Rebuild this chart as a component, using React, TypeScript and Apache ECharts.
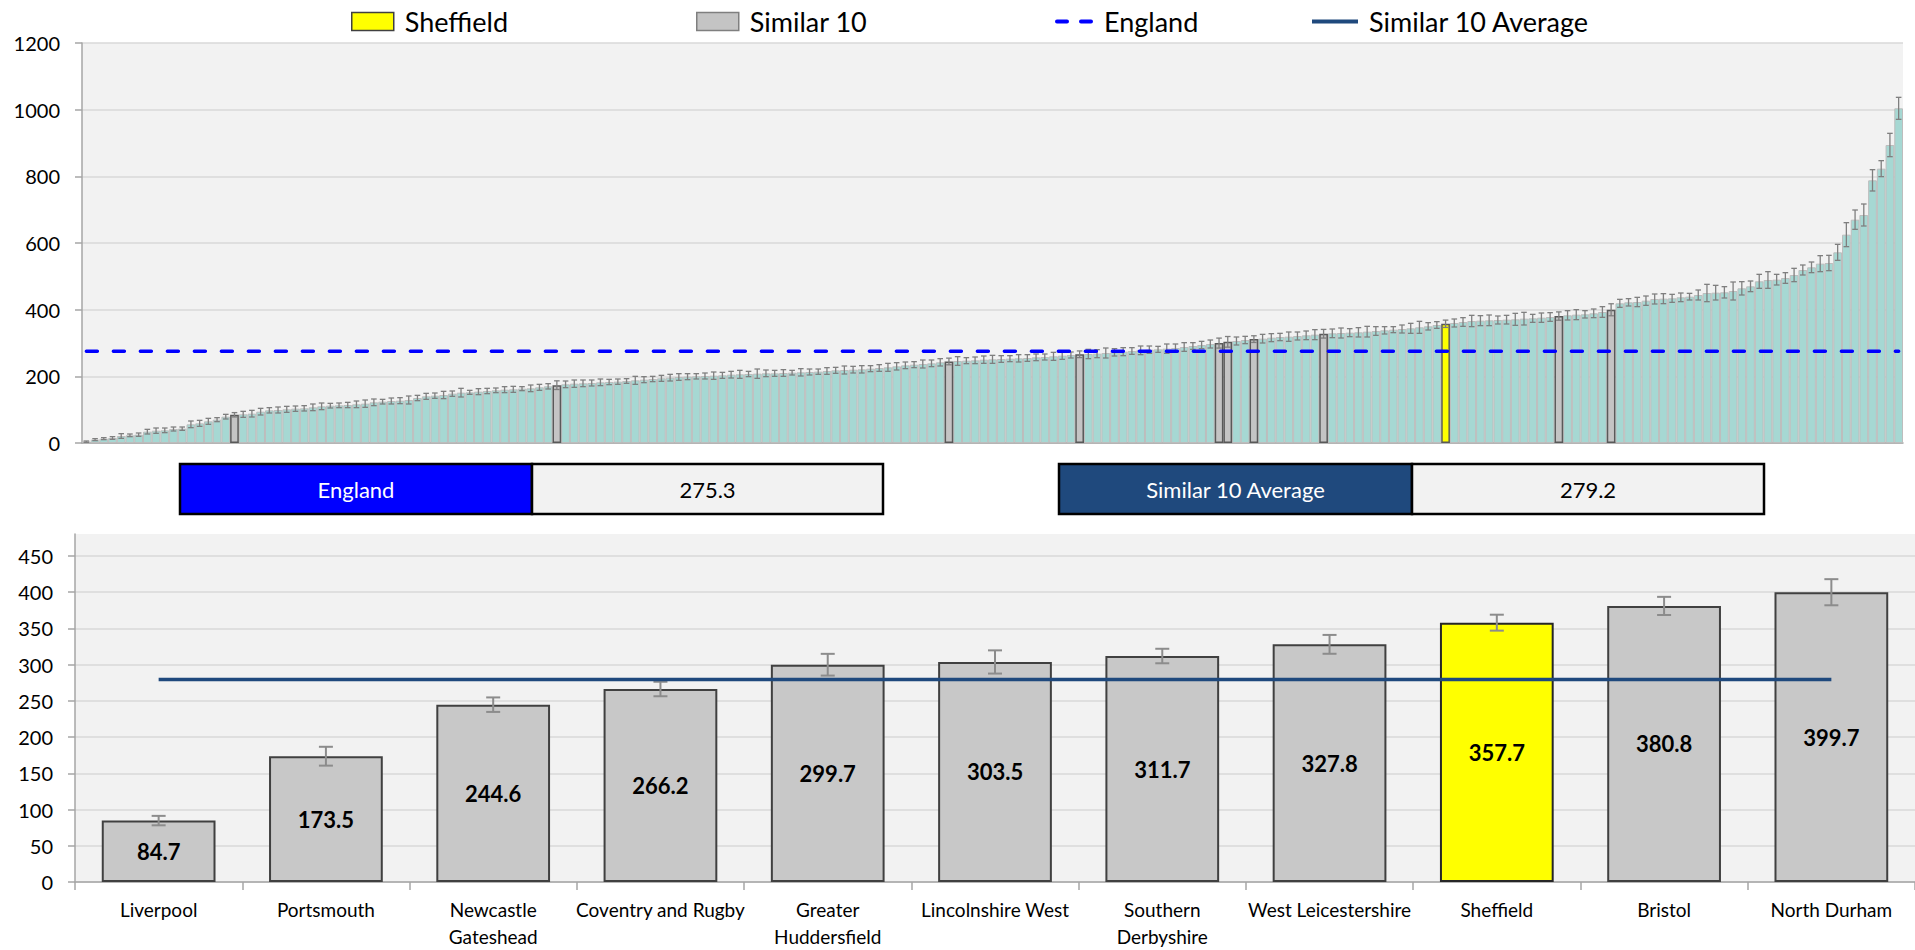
import React, { useEffect, useRef } from "react";
import * as echarts from "echarts";

// ---------- DATA ----------
// All CCG rates, sorted ascending (top chart)
const rates = [
  4, 10, 13, 15, 21, 23, 25, 34, 37, 38, 42, 43, 56, 59, 65, 70, 79, 84.7, 86, 88,
  94, 98, 99, 101, 103, 104, 107, 110, 112, 113, 114, 116, 118, 122, 124, 126, 127, 129, 135, 140,
  142, 144, 148, 151, 152, 154, 156, 158, 160, 161, 163, 164, 167, 170, 173.5, 176, 178, 179, 180, 182,
  183, 184, 186, 188, 190, 192, 194, 196, 198, 199, 200, 201, 202, 203, 205, 206, 207, 208, 209, 209,
  210, 211, 212, 213, 214, 216, 218, 219, 220, 221, 223, 225, 227, 230, 233, 235, 237, 239, 242, 244.6,
  246, 247, 248, 250, 251, 252, 253, 254, 255, 257, 258, 260, 262, 264, 266.2, 267, 268, 270, 272, 274,
  276, 278, 280, 281, 283, 285, 288, 291, 294, 297, 299.7, 303.5, 306, 309, 311.7, 313, 316, 318, 319, 321,
  323, 325, 327.8, 329, 330, 331, 332, 334, 336, 338, 340, 342, 344, 347, 350, 354, 357.7, 360, 363, 366,
  367, 368, 369, 370, 371, 373, 374, 376, 378, 380.8, 383, 385, 386, 389, 393, 399.7, 419, 422, 423, 427,
  432, 433, 434, 437, 439, 444, 450, 451, 452, 456, 464, 470, 485, 489, 490, 495, 504, 519, 527, 538,
  540, 572, 625, 670, 684, 788, 823, 894, 1004,
];

// half-width of each CCG's confidence interval
const ciHalf = [
  2, 3, 3, 4, 7, 4, 5, 7, 8, 7, 6, 5, 10, 9, 9, 6, 7, 6.5, 9, 10,
  10, 8, 9, 9, 8, 8, 10, 10, 7, 7, 8, 10, 11, 10, 7, 9, 9, 12, 8, 9,
  8, 11, 8, 13, 6, 9, 8, 7, 9, 9, 6, 10, 9, 8, 13, 10, 11, 10, 9, 10,
  8, 8, 7, 12, 9, 8, 9, 10, 10, 9, 8, 9, 11, 9, 10, 12, 8, 14, 10, 9,
  10, 7, 11, 9, 8, 10, 9, 12, 10, 11, 9, 10, 12, 11, 10, 9, 12, 10, 11, 9,
  13, 9, 10, 11, 12, 10, 9, 11, 10, 10, 9, 12, 11, 9, 10, 14, 12, 15, 11, 12,
  10, 13, 11, 9, 14, 12, 13, 10, 11, 12, 15, 16, 12, 11, 10, 13, 12, 11, 14, 12,
  13, 15, 12, 13, 15, 12, 14, 16, 13, 11, 9, 12, 15, 18, 11, 10, 11, 12, 13, 17,
  15, 16, 12, 13, 18, 19, 12, 14, 13, 12.5, 14, 15, 11, 13, 16, 18, 12, 11, 14, 14,
  15, 15, 12, 13, 10, 15, 26, 22, 17, 27, 20, 16, 21, 25, 16, 16, 20, 15, 16, 24,
  23, 24, 36, 29, 33, 32, 24, 35, 33,
];

// Similar 10 group (bottom chart)
const similarNames = [
  "Liverpool", "Portsmouth", "Newcastle Gateshead", "Coventry and Rugby", "Greater Huddersfield",
  "Lincolnshire West", "Southern Derbyshire", "West Leicestershire", "Sheffield", "Bristol", "North Durham",
];
const similarValues = [84.7, 173.5, 244.6, 266.2, 299.7, 303.5, 311.7, 327.8, 357.7, 380.8, 399.7];
const similarCi = [6.5, 13, 10, 10, 15, 16, 10, 13, 11, 12.5, 18];
// position of each in the ranked list of all CCGs
const similarRanks = [17, 54, 99, 114, 130, 131, 134, 142, 156, 169, 175];
const twoLineNames = ["Newcastle Gateshead", "Greater Huddersfield", "Southern Derbyshire"];

const highlightName = "Sheffield";
const englandValue = 275.3;
const similarAverage = 279.2;

const topAxis = { min: 0, max: 1200, interval: 200 };
const bottomAxis = { min: 0, max: 480, interval: 50 };
const bottomTicks = [0, 50, 100, 150, 200, 250, 300, 350, 400, 450];

// ---------- STYLE ----------
const FONT = "Lato, 'Open Sans', sans-serif";
const TEAL = "#a6d8d3";
const GREY = "#c4c4c4";
const YELLOW = "#ffff00";
const BLUE = "#0000ff";
const NAVY = "#1f497d";
const PLOT_BG = "#f2f2f2";
const GRIDLINE = "#d9d9d9";
const AXIS = "#a6a6a6";

function errorRenderer(capHalf: number, color: string, width: number) {
  return (params: any, api: any) => {
    const x = api.value(0);
    const lo = api.coord([x, api.value(1)]);
    const hi = api.coord([x, api.value(2)]);
    const style = { stroke: color, lineWidth: width };
    return {
      type: "group",
      children: [
        { type: "line", shape: { x1: lo[0], y1: lo[1], x2: hi[0], y2: hi[1] }, style },
        { type: "line", shape: { x1: lo[0] - capHalf, y1: lo[1], x2: lo[0] + capHalf, y2: lo[1] }, style },
        { type: "line", shape: { x1: hi[0] - capHalf, y1: hi[1], x2: hi[0] + capHalf, y2: hi[1] }, style },
      ],
    };
  };
}

function buildOption() {
  const cats = rates.map((_, i) => String(i + 1));
  const simIdx = new Map<number, number>();
  similarRanks.forEach((r, k) => simIdx.set(r, k));
  const sheffRank = similarRanks[similarNames.indexOf(highlightName)];

  const tealData = rates.map((v, i) => (simIdx.has(i) ? "-" : v));
  const greyData = rates.map((v, i) => (simIdx.has(i) && i !== sheffRank ? v : "-"));
  const yellowData = rates.map((v, i) => (i === sheffRank ? v : "-"));
  const errTop = rates.map((v, i) => {
    const c = simIdx.has(i) ? similarCi[simIdx.get(i) as number] : ciHalf[i];
    return [i, v - c, v + c];
  });
  const englandLine = rates.map(() => englandValue);

  const bottomBars = similarValues.map((v, k) => ({
    value: v,
    itemStyle: similarNames[k] === highlightName
      ? { color: YELLOW, borderColor: "#262626", borderWidth: 2 }
      : { color: "#c8c8c8", borderColor: "#404040", borderWidth: 2 },
  }));
  const errBottom = similarValues.map((v, k) => [k, v - similarCi[k], v + similarCi[k]]);
  const avgLine = similarValues.map(() => similarAverage);

  const legendText = { fontSize: 27, color: "#000", fontFamily: FONT, padding: [0, 0, 0, 6] };

  const boxText = (x: number, w: number, text: string, color: string) => ({
    type: "text",
    x: x + w / 2,
    y: 489,
    style: { text, fill: color, font: `22px ${FONT}`, align: "center", verticalAlign: "middle" },
  });
  const box = (x: number, w1: number, w2: number, fill: string, label: string, value: number) => [
    { type: "rect", shape: { x, y: 464, width: w1, height: 50 }, style: { fill, stroke: "#000", lineWidth: 2.5 } },
    { type: "rect", shape: { x: x + w1, y: 464, width: w2, height: 50 }, style: { fill: PLOT_BG, stroke: "#000", lineWidth: 2.5 } },
    boxText(x, w1, label, "#fff"),
    boxText(x + w1, w2, value.toFixed(1), "#000"),
  ];

  const dashIcon = "path://M2,0 L12,0 A2,2 0 0 1 12,4 L2,4 A2,2 0 0 1 2,0 Z M26,0 L36,0 A2,2 0 0 1 36,4 L26,4 A2,2 0 0 1 26,0 Z";
  const solidIcon = "path://M0,0 L46,0 L46,4 L0,4 Z";

  return {
    animation: false,
    textStyle: { fontFamily: FONT },
    legend: [
      {
        data: [{ name: highlightName, icon: "rect", itemStyle: { color: YELLOW, borderColor: "#404040", borderWidth: 1.5 } }],
        left: 346, top: 3, itemWidth: 42, itemHeight: 18, selectedMode: false, textStyle: legendText,
      },
      {
        data: [{ name: "Similar 10", icon: "rect", itemStyle: { color: GREY, borderColor: "#7f7f7f", borderWidth: 1.5 } }],
        left: 691, top: 3, itemWidth: 42, itemHeight: 18, selectedMode: false, textStyle: legendText,
      },
      {
        data: [{ name: "England", icon: dashIcon, itemStyle: { color: BLUE, borderWidth: 0 } }],
        left: 1050, top: 3, itemWidth: 38, itemHeight: 18, selectedMode: false, textStyle: legendText,
      },
      {
        data: [{ name: "Similar 10 Average", icon: solidIcon, itemStyle: { color: NAVY, borderWidth: 0 } }],
        left: 1307, top: 3, itemWidth: 46, itemHeight: 18, selectedMode: false, textStyle: legendText,
      },
    ],
    grid: [
      { left: 82, right: 12, top: 43, height: 400, show: true, backgroundColor: PLOT_BG, borderWidth: 0 },
      { left: 75, right: 0, top: 534, height: 352, show: true, backgroundColor: PLOT_BG, borderWidth: 0 },
    ],
    xAxis: [
      {
        gridIndex: 0, type: "category", data: cats,
        axisLine: { lineStyle: { color: AXIS, width: 1.5 } },
        axisTick: { show: false }, axisLabel: { show: false }, splitLine: { show: false },
      },
      {
        gridIndex: 1, type: "category", data: similarNames,
        axisLine: { lineStyle: { color: AXIS, width: 1.5 } },
        axisTick: { show: true, length: 8, lineStyle: { color: AXIS, width: 1.5 } },
        axisLabel: {
          fontSize: 19, color: "#000", margin: 14, lineHeight: 27, interval: 0,
          formatter: (name: string) => (twoLineNames.includes(name) ? name.replace(" ", "\n") : name),
        },
      },
    ],
    yAxis: [
      {
        gridIndex: 0, type: "value", min: topAxis.min, max: topAxis.max, interval: topAxis.interval,
        axisLine: { show: true, lineStyle: { color: AXIS, width: 1.5 } },
        axisTick: { show: true, length: 7, lineStyle: { color: AXIS, width: 1.5 } },
        axisLabel: { fontSize: 20, color: "#000", margin: 22, formatter: (v: number) => String(v) },
        splitLine: { lineStyle: { color: GRIDLINE, width: 1.5 } },
      },
      {
        gridIndex: 1, type: "value", min: bottomAxis.min, max: bottomAxis.max, interval: bottomAxis.interval,
        axisLine: { show: true, lineStyle: { color: AXIS, width: 1.5 } },
        axisTick: { show: true, length: 7, customValues: bottomTicks, lineStyle: { color: AXIS, width: 1.5 } },
        axisLabel: { fontSize: 20, color: "#000", margin: 22, customValues: bottomTicks, formatter: (v: number) => String(v) },
        splitLine: { lineStyle: { color: GRIDLINE, width: 1.5 } },
      },
    ],
    series: [
      {
        name: "All CCGs", type: "bar", xAxisIndex: 0, yAxisIndex: 0, data: tealData,
        barGap: "-100%", barCategoryGap: "0%",
        itemStyle: { color: TEAL, borderColor: "#bdbdbd", borderWidth: 1 }, z: 2,
      },
      {
        name: "Similar 10", type: "bar", xAxisIndex: 0, yAxisIndex: 0, data: greyData,
        barGap: "-100%", barCategoryGap: "0%",
        itemStyle: { color: GREY, borderColor: "#595959", borderWidth: 1.5 }, z: 3,
      },
      {
        name: highlightName, type: "bar", xAxisIndex: 0, yAxisIndex: 0, data: yellowData,
        barGap: "-100%", barCategoryGap: "0%",
        itemStyle: { color: YELLOW, borderColor: "#595959", borderWidth: 1.5 }, z: 3,
      },
      {
        name: "errTop", type: "custom", xAxisIndex: 0, yAxisIndex: 0, data: errTop,
        renderItem: errorRenderer(2.8, "#7f7f7f", 1.3), encode: { x: 0, y: [1, 2] }, z: 4, silent: true,
      },
      {
        name: "England", type: "line", xAxisIndex: 0, yAxisIndex: 0, data: englandLine,
        symbol: "none", z: 5, silent: true,
        lineStyle: { color: BLUE, width: 3.5, type: [11, 16], cap: "round" },
        itemStyle: { color: BLUE },
      },
      {
        name: "Similar 10", type: "bar", xAxisIndex: 1, yAxisIndex: 1, data: bottomBars,
        barCategoryGap: "32%",
        itemStyle: { color: "#c8c8c8", borderColor: "#404040", borderWidth: 2 },
        label: {
          show: true, position: "inside", color: "#000", fontWeight: "bold", fontSize: 22,
          formatter: (p: any) => Number(p.value).toFixed(1),
        },
        z: 2,
      },
      {
        name: "errBottom", type: "custom", xAxisIndex: 1, yAxisIndex: 1, data: errBottom,
        renderItem: errorRenderer(7, "#8c8c8c", 2), encode: { x: 0, y: [1, 2] }, z: 4, silent: true,
      },
      {
        name: "Similar 10 Average", type: "line", xAxisIndex: 1, yAxisIndex: 1, data: avgLine,
        symbol: "none", z: 5, silent: true,
        lineStyle: { color: NAVY, width: 3.5 }, itemStyle: { color: NAVY },
      },
    ],
    graphic: [
      ...box(180, 352, 351, BLUE, "England", englandValue),
      ...box(1059, 353, 352, NAVY, "Similar 10 Average", similarAverage),
    ],
  };
}

export default function App() {
  const ref = useRef<HTMLDivElement>(null);
  useEffect(() => {
    if (!ref.current) return;
    const chart = echarts.init(ref.current, undefined, { renderer: "svg" });
    chart.setOption(buildOption() as any);
    return () => chart.dispose();
  }, []);
  return (
    <div
      ref={ref}
      style={{ position: "fixed", left: 0, top: 0, width: 1915, height: 950, background: "#fff" }}
    />
  );
}
